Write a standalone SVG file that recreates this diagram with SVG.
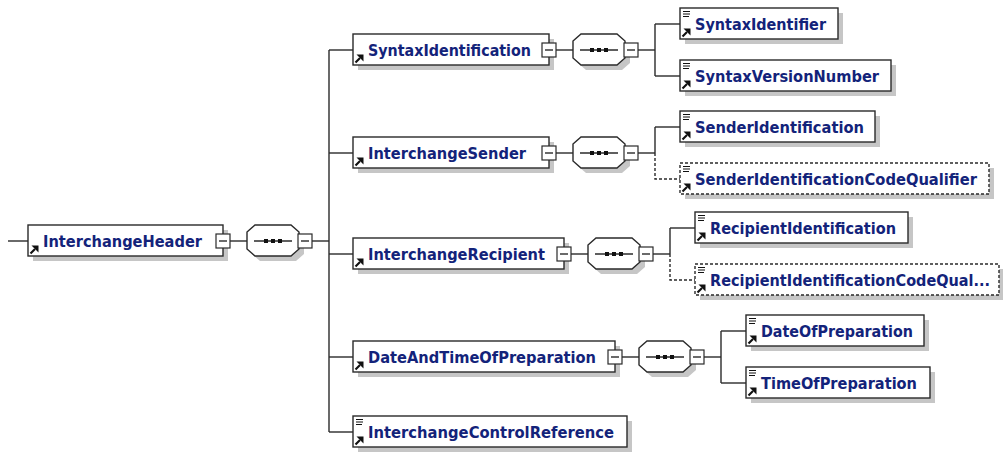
<svg xmlns="http://www.w3.org/2000/svg" xmlns:xlink="http://www.w3.org/1999/xlink" width="1003" height="452" viewBox="0 0 1003 452">
<style>
.sh{fill:#c6c6c6}
.box{fill:#fff;stroke:#2a2a2a;stroke-width:1.4}
.opt{stroke-dasharray:3 2}
.t{font-family:"DejaVu Sans",Verdana,sans-serif;font-weight:bold;font-size:15px;fill:#13237a}
.ln{stroke:#2a2a2a;stroke-width:1.4;fill:none}
.dl{stroke-dasharray:3 2}
.mb{fill:#fff;stroke:#2a2a2a;stroke-width:1.2}
.ic{stroke:#111;fill:none}
</style>
<defs>
<g id="ref">
<line class="ic" x1="2.5" y1="-2.5" x2="7" y2="-7" stroke-width="2.2"/>
<polygon points="3.5,-10.5 10.5,-10.5 10.5,-3.5" fill="#111"/>
</g>
<g id="lines">
<line class="ic" x1="3" y1="3.5" x2="10" y2="3.5" stroke-width="1"/>
<line class="ic" x1="3" y1="6" x2="10" y2="6" stroke-width="1"/>
<line class="ic" x1="3" y1="8.5" x2="9" y2="8.5" stroke-width="1"/>
</g>
<g id="minus">
<rect class="mb" x="-7" y="-7" width="14" height="14"/>
<line class="ln" x1="-4" y1="0" x2="4" y2="0" stroke-width="1.2"/>
</g>
<g id="seq">
<path class="sh" d="M5,-4 L13,-11 L49,-11 L57,-4 L57,13 L49,20 L13,20 L5,13 Z"/>
<path class="box" d="M0,-9 L8,-16 L44,-16 L52,-9 L52,8 L44,15 L8,15 L0,8 Z"/>
<line class="ln" x1="7" y1="0" x2="45" y2="0"/>
<rect x="17" y="-2" width="4" height="4" fill="#111"/>
<rect x="24" y="-2" width="4" height="4" fill="#111"/>
<rect x="31" y="-2" width="4" height="4" fill="#111"/>
<use xlink:href="#minus" x="58" y="0"/>
</g>
</defs>

<g id="connectors">
<line class="ln" x1="8" y1="241" x2="28" y2="241"/>
<line class="ln" x1="230" y1="241" x2="247" y2="241"/>
<line class="ln" x1="312" y1="241" x2="329" y2="241"/>
<line class="ln" x1="329" y1="50" x2="329" y2="432"/>
<line class="ln" x1="329" y1="50" x2="353" y2="50"/>
<line class="ln" x1="329" y1="153" x2="353" y2="153"/>
<line class="ln" x1="329" y1="254" x2="353" y2="254"/>
<line class="ln" x1="329" y1="357" x2="353" y2="357"/>
<line class="ln" x1="329" y1="432" x2="353" y2="432"/>
<line class="ln" x1="556" y1="50" x2="573" y2="50"/>
<line class="ln" x1="638" y1="50" x2="655" y2="50"/>
<line class="ln" x1="655" y1="24" x2="655" y2="76"/>
<line class="ln" x1="655" y1="24" x2="680" y2="24"/>
<line class="ln" x1="655" y1="76" x2="680" y2="76"/>
<line class="ln" x1="556" y1="153" x2="573" y2="153"/>
<line class="ln" x1="638" y1="153" x2="655" y2="153"/>
<line class="ln" x1="655" y1="127" x2="655" y2="153"/>
<line class="ln" x1="655" y1="127" x2="680" y2="127"/>
<path class="ln dl" d="M655,153 L655,179 L680,179"/>
<line class="ln" x1="571" y1="254" x2="588" y2="254"/>
<line class="ln" x1="653" y1="254" x2="670" y2="254"/>
<line class="ln" x1="670" y1="228" x2="670" y2="254"/>
<line class="ln" x1="670" y1="228" x2="695" y2="228"/>
<path class="ln dl" d="M670,254 L670,280 L695,280"/>
<line class="ln" x1="622" y1="357" x2="639" y2="357"/>
<line class="ln" x1="704" y1="357" x2="721" y2="357"/>
<line class="ln" x1="721" y1="331" x2="721" y2="383"/>
<line class="ln" x1="721" y1="331" x2="746" y2="331"/>
<line class="ln" x1="721" y1="383" x2="746" y2="383"/>
</g>

<g id="InterchangeHeader">
<rect class="sh" x="33" y="230" width="195" height="31"/>
<rect class="box" x="28" y="225" width="195" height="31"/>
<use xlink:href="#ref" x="28" y="256"/>
<text class="t" x="43" y="246.5" textLength="159" lengthAdjust="spacingAndGlyphs">InterchangeHeader</text>
<use xlink:href="#minus" x="223" y="241"/>
</g>
<g id="seq_root"><use xlink:href="#seq" x="247" y="241"/></g>

<g id="SyntaxIdentification">
<rect class="sh" x="358" y="39" width="196" height="31"/>
<rect class="box" x="353" y="34" width="196" height="31"/>
<use xlink:href="#ref" x="353" y="65"/>
<text class="t" x="368" y="55.5" textLength="163" lengthAdjust="spacingAndGlyphs">SyntaxIdentification</text>
<use xlink:href="#minus" x="549" y="50"/>
</g>
<g id="seq_syntax"><use xlink:href="#seq" x="573" y="50"/></g>

<g id="InterchangeSender">
<rect class="sh" x="358" y="142" width="196" height="31"/>
<rect class="box" x="353" y="137" width="196" height="31"/>
<use xlink:href="#ref" x="353" y="168"/>
<text class="t" x="368" y="158.5" textLength="158" lengthAdjust="spacingAndGlyphs">InterchangeSender</text>
<use xlink:href="#minus" x="549" y="153"/>
</g>
<g id="seq_sender"><use xlink:href="#seq" x="573" y="153"/></g>

<g id="InterchangeRecipient">
<rect class="sh" x="358" y="243" width="211" height="31"/>
<rect class="box" x="353" y="238" width="211" height="31"/>
<use xlink:href="#ref" x="353" y="269"/>
<text class="t" x="368" y="259.5" textLength="177" lengthAdjust="spacingAndGlyphs">InterchangeRecipient</text>
<use xlink:href="#minus" x="564" y="254"/>
</g>
<g id="seq_recipient"><use xlink:href="#seq" x="588" y="254"/></g>

<g id="DateAndTimeOfPreparation">
<rect class="sh" x="358" y="346" width="262" height="31"/>
<rect class="box" x="353" y="341" width="262" height="31"/>
<use xlink:href="#ref" x="353" y="372"/>
<text class="t" x="368" y="362.5" textLength="228" lengthAdjust="spacingAndGlyphs">DateAndTimeOfPreparation</text>
<use xlink:href="#minus" x="615" y="357"/>
</g>
<g id="seq_datetime"><use xlink:href="#seq" x="639" y="357"/></g>

<g id="InterchangeControlReference">
<rect class="sh" x="358" y="421" width="274" height="31"/>
<rect class="box" x="353" y="416" width="274" height="31"/>
<use xlink:href="#lines" x="353" y="416"/>
<use xlink:href="#ref" x="353" y="447"/>
<text class="t" x="368" y="437.5" textLength="246" lengthAdjust="spacingAndGlyphs">InterchangeControlReference</text>
</g>

<g id="SyntaxIdentifier">
<rect class="sh" x="685" y="13" width="158" height="31"/>
<rect class="box" x="680" y="8" width="158" height="31"/>
<use xlink:href="#lines" x="680" y="8"/>
<use xlink:href="#ref" x="680" y="39"/>
<text class="t" x="695" y="29.5" textLength="131" lengthAdjust="spacingAndGlyphs">SyntaxIdentifier</text>
</g>
<g id="SyntaxVersionNumber">
<rect class="sh" x="685" y="65" width="211" height="31"/>
<rect class="box" x="680" y="60" width="211" height="31"/>
<use xlink:href="#lines" x="680" y="60"/>
<use xlink:href="#ref" x="680" y="91"/>
<text class="t" x="695" y="81.5" textLength="184" lengthAdjust="spacingAndGlyphs">SyntaxVersionNumber</text>
</g>
<g id="SenderIdentification">
<rect class="sh" x="685" y="116" width="195" height="31"/>
<rect class="box" x="680" y="111" width="195" height="31"/>
<use xlink:href="#lines" x="680" y="111"/>
<use xlink:href="#ref" x="680" y="142"/>
<text class="t" x="695" y="132.5" textLength="169" lengthAdjust="spacingAndGlyphs">SenderIdentification</text>
</g>
<g id="SenderIdentificationCodeQualifier">
<rect class="sh" x="685" y="168" width="309" height="31"/>
<rect class="box opt" x="680" y="163" width="309" height="31"/>
<use xlink:href="#lines" x="680" y="163"/>
<use xlink:href="#ref" x="680" y="194"/>
<text class="t" x="695" y="184.5" textLength="282" lengthAdjust="spacingAndGlyphs">SenderIdentificationCodeQualifier</text>
</g>
<g id="RecipientIdentification">
<rect class="sh" x="700" y="217" width="213" height="31"/>
<rect class="box" x="695" y="212" width="213" height="31"/>
<use xlink:href="#lines" x="695" y="212"/>
<use xlink:href="#ref" x="695" y="243"/>
<text class="t" x="710" y="233.5" textLength="186" lengthAdjust="spacingAndGlyphs">RecipientIdentification</text>
</g>
<g id="RecipientIdentificationCodeQualifier">
<rect class="sh" x="700" y="269" width="304" height="31"/>
<rect class="box opt" x="695" y="264" width="304" height="31"/>
<use xlink:href="#lines" x="695" y="264"/>
<use xlink:href="#ref" x="695" y="295"/>
<text class="t" x="710" y="285.5" textLength="280" lengthAdjust="spacingAndGlyphs">RecipientIdentificationCodeQual...</text>
</g>
<g id="DateOfPreparation">
<rect class="sh" x="751" y="320" width="178" height="31"/>
<rect class="box" x="746" y="315" width="178" height="31"/>
<use xlink:href="#lines" x="746" y="315"/>
<use xlink:href="#ref" x="746" y="346"/>
<text class="t" x="761" y="336.5" textLength="152" lengthAdjust="spacingAndGlyphs">DateOfPreparation</text>
</g>
<g id="TimeOfPreparation">
<rect class="sh" x="751" y="372" width="184" height="31"/>
<rect class="box" x="746" y="367" width="184" height="31"/>
<use xlink:href="#lines" x="746" y="367"/>
<use xlink:href="#ref" x="746" y="398"/>
<text class="t" x="761" y="388.5" textLength="156" lengthAdjust="spacingAndGlyphs">TimeOfPreparation</text>
</g>
</svg>
